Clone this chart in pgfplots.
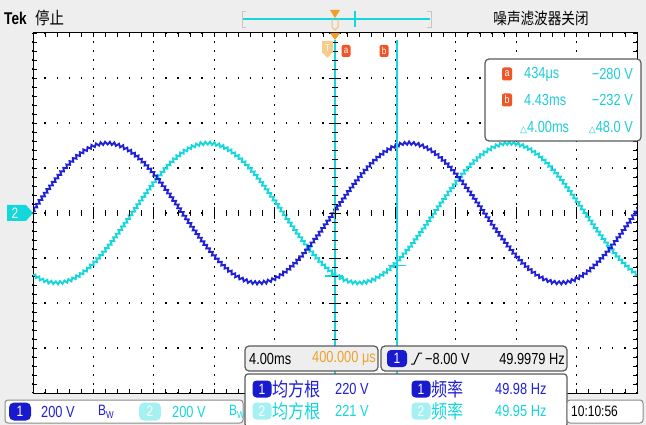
\documentclass[border=0pt]{standalone}
\usepackage{pgfplots}
\pgfplotsset{compat=1.18}
\usepackage{pgfplotstable}
\usepackage{fontspec}
\setmainfont{Liberation Sans}[FakeStretch=0.8]
\newfontfamily\cjk{Noto Sans CJK SC}[FakeStretch=0.85]
\newfontfamily\dejavu{DejaVu Sans}
\usetikzlibrary{decorations.pathmorphing}
\newcommand{\fs}[1]{\fontsize{#1}{#1}\selectfont}
\definecolor{bg}{RGB}{238,238,238}
\definecolor{chA}{RGB}{32,32,215}
\definecolor{chB}{RGB}{20,215,220}
\definecolor{badgeA}{RGB}{25,25,205}
\definecolor{badgeB}{RGB}{165,240,240}
\definecolor{curtxt}{RGB}{30,205,215}
\definecolor{orng}{RGB}{240,160,40}
\definecolor{redor}{RGB}{240,85,40}
\definecolor{boxline}{RGB}{90,90,90}

\pgfplotstableread{
t v
-20.1 0
-19.6 48.6
-19.1 96.1
-18.6 141.2
-18.1 182.8
-17.6 219.9
-17.1 251.6
-16.6 277.1
-16.1 295.8
-15.6 307.2
-15.1 311
-14.6 307.2
-14.1 295.8
-13.6 277.1
-13.1 251.6
-12.6 219.9
-12.1 182.8
-11.6 141.2
-11.1 96.1
-10.6 48.6
-10.1 0
-9.6 -48.6
-9.1 -96.1
-8.6 -141.2
-8.1 -182.8
-7.6 -219.9
-7.1 -251.6
-6.6 -277.1
-6.1 -295.8
-5.6 -307.2
-5.1 -311
-4.6 -307.2
-4.1 -295.8
-3.6 -277.1
-3.1 -251.6
-2.6 -219.9
-2.1 -182.8
-1.6 -141.2
-1.1 -96.1
-0.6 -48.6
-0.1 0
0.4 48.6
0.9 96.1
1.4 141.2
1.9 182.8
2.4 219.9
2.9 251.6
3.4 277.1
3.9 295.8
4.4 307.2
4.9 311
5.4 307.2
5.9 295.8
6.4 277.1
6.9 251.6
7.4 219.9
7.9 182.8
8.4 141.2
8.9 96.1
9.4 48.6
9.9 0
10.4 -48.6
10.9 -96.1
11.4 -141.2
11.9 -182.8
12.4 -219.9
12.9 -251.6
13.4 -277.1
13.9 -295.8
14.4 -307.2
14.9 -311
15.4 -307.2
15.9 -295.8
16.4 -277.1
16.9 -251.6
17.4 -219.9
17.9 -182.8
18.4 -141.2
18.9 -96.1
19.4 -48.6
19.9 0
20.4 48.6
}\chone

\pgfplotstableread{
t v
-20.43 -251.6
-19.93 -277.1
-19.43 -295.8
-18.93 -307.2
-18.43 -311
-17.93 -307.2
-17.43 -295.8
-16.93 -277.1
-16.43 -251.6
-15.93 -219.9
-15.43 -182.8
-14.93 -141.2
-14.43 -96.1
-13.93 -48.6
-13.43 0
-12.93 48.6
-12.43 96.1
-11.93 141.2
-11.43 182.8
-10.93 219.9
-10.43 251.6
-9.93 277.1
-9.43 295.8
-8.93 307.2
-8.43 311
-7.93 307.2
-7.43 295.8
-6.93 277.1
-6.43 251.6
-5.93 219.9
-5.43 182.8
-4.93 141.2
-4.43 96.1
-3.93 48.6
-3.43 0
-2.93 -48.6
-2.43 -96.1
-1.93 -141.2
-1.43 -182.8
-0.93 -219.9
-0.43 -251.6
0.07 -277.1
0.57 -295.8
1.07 -307.2
1.57 -311
2.07 -307.2
2.57 -295.8
3.07 -277.1
3.57 -251.6
4.07 -219.9
4.57 -182.8
5.07 -141.2
5.57 -96.1
6.07 -48.6
6.57 0
7.07 48.6
7.57 96.1
8.07 141.2
8.57 182.8
9.07 219.9
9.57 251.6
10.07 277.1
10.57 295.8
11.07 307.2
11.57 311
12.07 307.2
12.57 295.8
13.07 277.1
13.57 251.6
14.07 219.9
14.57 182.8
15.07 141.2
15.57 96.1
16.07 48.6
16.57 0
17.07 -48.6
17.57 -96.1
18.07 -141.2
18.57 -182.8
19.07 -219.9
19.57 -251.6
20.07 -277.1
}\chtwo

\begin{document}
\begin{tikzpicture}
\begin{scope}[x=1pt,y=-1pt]
\fill[bg] (0,0) rectangle (646,425);
\end{scope}

\begin{axis}[
  at={(33pt,-393pt)}, anchor=south west,
  scale only axis, width=604pt, height=360pt,
  xmin=-20, xmax=20, ymin=-800, ymax=800,
  xtick={-20,-16,...,20}, ytick={-800,-600,...,800},
  minor x tick num=4, minor y tick num=4,
  xticklabels={}, yticklabels={},
  tick pos=both, tick align=inside,
  major tick length=4pt, minor tick length=4pt,
  tick style={black, line width=0.8pt},
  axis line style={black, line width=1pt},
  grid=major,
  x grid style={black, line width=1.3pt, dash pattern=on 1.3pt off 7.7pt, dash phase=0.65pt},
  y grid style={black, line width=1.3pt, dash pattern=on 1.3pt off 10.78pt, dash phase=0.65pt},
  axis background/.style={fill=white},
]
\addplot[chB, line width=1.9pt, decorate, decoration={zigzag, segment length=4.5pt, amplitude=1.5pt}] table[x=t,y=v] {\chtwo};
\addplot[chA, line width=1.9pt, decorate, decoration={zigzag, segment length=4.5pt, amplitude=1.5pt}] table[x=t,y=v] {\chone};
\addplot[chB, line width=1.3pt] coordinates {(0,-800) (0,770)};
\addplot[chB, line width=1.3pt] coordinates {(4.1,-800) (4.1,770)};
\addplot[chB, line width=1.3pt] coordinates {(-0.65,-280) (0.55,-280)};
\addplot[chB, line width=1.3pt] coordinates {(3.5,-232) (4.7,-232)};
\end{axis}

\begin{scope}[x=1pt,y=-1pt]
% centre line ticks
\foreach \i in {0,...,50} \draw[black, line width=0.8pt] (33+\i*12.08,210) -- (33+\i*12.08,216);
\foreach \i in {0,...,10} \draw[black, line width=0.8pt] (33+\i*60.4,207) -- (33+\i*60.4,219);
\foreach \j in {0,...,40} \draw[black, line width=0.8pt] (332,33+\j*9) -- (338,33+\j*9);
\foreach \j in {0,...,8} \draw[black, line width=0.8pt] (329,33+\j*45) -- (341,33+\j*45);

% top bar
\node[anchor=west, inner sep=0pt] at (4,18) {\fs{17}\bfseries Tek};
\node[anchor=west, inner sep=0pt] at (35,18) {\cjk\fs{17}停止};
\draw[gray!45, line width=0.8pt] (246,11) -- (242,11) -- (242,27) -- (246,27);
\draw[gray!45, line width=0.8pt] (427,11) -- (431,11) -- (431,27) -- (427,27);
\draw[chB, line width=1.5pt] (243,19) -- (430,19);
\draw[chB, line width=1.3pt] (355,11) -- (355,27);
\fill[orng] (330,10) -- (340,10) -- (335,18) -- cycle;
\draw[orng!70, line width=1pt] (332,19) -- (332,27) -- (335,30) -- (338,27) -- (338,19);
\node[anchor=center, inner sep=0pt] at (541,18) {\cjk\fs{16}噪声滤波器关闭};

% trigger / cursor markers inside graticule
\fill[orng] (330,33) -- (340,33) -- (335,40) -- cycle;
\fill[orng!55] (322,41) -- (333,41) -- (333,52) -- (327.5,58) -- (322,52) -- cycle;
\node[text=white, inner sep=0pt] at (327.5,48) {\fs{10}T};
\node[fill=redor, rounded corners=2pt, inner sep=0pt, minimum width=9pt, minimum height=12pt, text=white] at (346,51) {\fs{10}a};
\node[fill=redor, rounded corners=2pt, inner sep=0pt, minimum width=9pt, minimum height=12pt, text=white] at (384,51) {\fs{10}b};

% channel 2 marker on the left
\fill[chB] (7,205) -- (26,205) -- (33,213) -- (26,221) -- (7,221) -- cycle;
\node[text=white, inner sep=0pt] at (15,213) {\fs{15}2};

% cursor readout box
\draw[boxline, line width=1.2pt, fill=white, rounded corners=4pt] (485,59) rectangle (641,141);
\node[fill=redor, rounded corners=2pt, inner sep=0pt, minimum width=10pt, minimum height=13pt, text=white] at (507,74) {\fs{11}a};
\node[fill=redor, rounded corners=2pt, inner sep=0pt, minimum width=10pt, minimum height=13pt, text=white] at (507,100) {\fs{11}b};
\node[anchor=west, inner sep=0pt, text=curtxt] at (524,74) {\fs{16}434μs};
\node[anchor=east, inner sep=0pt, text=curtxt] at (633,74) {\fs{16}−280 V};
\node[anchor=west, inner sep=0pt, text=curtxt] at (524,100) {\fs{16}4.43ms};
\node[anchor=east, inner sep=0pt, text=curtxt] at (633,100) {\fs{16}−232 V};
\node[anchor=west, inner sep=0pt, text=curtxt] at (520,127) {{\dejavu\fs{9}△}\fs{16}4.00ms};
\node[anchor=east, inner sep=0pt, text=curtxt] at (633,127) {{\dejavu\fs{9}△}\fs{16}48.0 V};

% bottom: timebase box
\draw[boxline, line width=1.2pt, fill=bg, rounded corners=4pt] (245,346) rectangle (378,371);
\node[anchor=west, inner sep=0pt] at (249,358.5) {\fs{16}4.00ms};
\node[anchor=east, inner sep=0pt, text=orng] at (376,358.5) {\fs{16}400.000 μs};
% trigger box
\draw[boxline, line width=1.2pt, fill=bg, rounded corners=4pt] (381,346) rectangle (567,371);
\node[fill=badgeA, rounded corners=4pt, inner sep=0pt, minimum width=20pt, minimum height=17pt, text=white] at (397,358.5) {\fs{15}1};
\draw[black, line width=1pt] (411,364) -- (414,364) -- (419,353) -- (422,353);
\node[anchor=west, inner sep=0pt] at (425,358.5) {\fs{16}−8.00 V};
\node[anchor=east, inner sep=0pt] at (565,358.5) {\fs{16}49.9979 Hz};
\fill[white] (376,373) -- (383,373) -- (379.5,367) -- cycle;

% measurement box
\draw[boxline, line width=1.2pt, fill=white, rounded corners=3pt] (245,374) rectangle (567,427);
\node[fill=badgeA, rounded corners=4pt, inner sep=0pt, minimum width=19pt, minimum height=17pt, text=white] at (262,389) {\fs{15}1};
\node[anchor=west, inner sep=0pt, text=chA] at (272,389) {\cjk\fs{19}均方根};
\node[anchor=west, inner sep=0pt, text=chA] at (335,389) {\fs{16}220 V};
\node[fill=badgeA, rounded corners=4pt, inner sep=0pt, minimum width=19pt, minimum height=17pt, text=white] at (421,389) {\fs{15}1};
\node[anchor=west, inner sep=0pt, text=chA] at (431,389) {\cjk\fs{19}频率};
\node[anchor=west, inner sep=0pt, text=chA] at (495,389) {\fs{16}49.98 Hz};
\node[fill=badgeB, rounded corners=4pt, inner sep=0pt, minimum width=19pt, minimum height=17pt, text=white] at (262,411) {\fs{15}2};
\node[anchor=west, inner sep=0pt, text=chB] at (272,411) {\cjk\fs{19}均方根};
\node[anchor=west, inner sep=0pt, text=chB] at (335,411) {\fs{16}221 V};
\node[fill=badgeB, rounded corners=4pt, inner sep=0pt, minimum width=19pt, minimum height=17pt, text=white] at (421,411) {\fs{15}2};
\node[anchor=west, inner sep=0pt, text=chB] at (431,411) {\cjk\fs{19}频率};
\node[anchor=west, inner sep=0pt, text=chB] at (495,411) {\fs{16}49.95 Hz};

% channel settings box
\draw[boxline!70, line width=1pt, fill=white, rounded corners=3pt] (5,400) rectangle (243,423);
\node[fill=badgeA, rounded corners=5pt, inner sep=0pt, minimum width=22pt, minimum height=18pt, text=white] at (20,411.5) {\fs{15}1};
\node[anchor=west, inner sep=0pt, text=chA] at (41,411.5) {\fs{16}200 V};
\node[anchor=west, inner sep=0pt, text=chA] at (98,411.5) {\fs{15}B\raisebox{-3pt}{\fs{10}W}};
\node[fill=badgeB, rounded corners=5pt, inner sep=0pt, minimum width=22pt, minimum height=18pt, text=white] at (150,411.5) {\fs{15}2};
\node[anchor=west, inner sep=0pt, text=chB] at (172,411.5) {\fs{16}200 V};
\node[anchor=west, inner sep=0pt, text=chB] at (229,411.5) {\fs{15}B\raisebox{-3pt}{\fs{10}W}};

% clock box
\draw[boxline!70, line width=1pt, fill=white, rounded corners=3pt] (567,400) rectangle (643,423);
\node[anchor=west, inner sep=0pt] at (571,411.5) {\fs{15}10:10:56};
\end{scope}

\pgfresetboundingbox
\path (0pt,0pt) rectangle (646pt,-425pt);
\end{tikzpicture}
\end{document}
